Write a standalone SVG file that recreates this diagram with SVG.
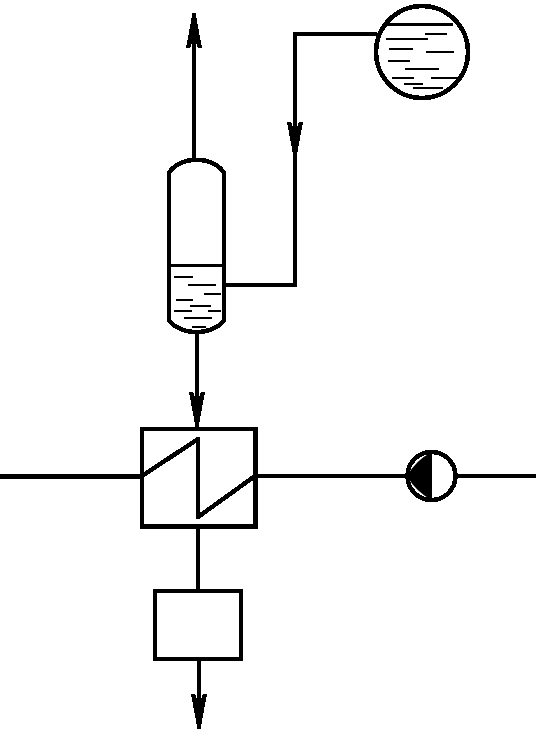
<svg xmlns="http://www.w3.org/2000/svg" width="541" height="733" viewBox="0 0 541 733">
<style>
.s{fill:none;stroke:#000;stroke-width:4.500;shape-rendering:crispEdges}
.f{fill:#fff;stroke:#000;stroke-width:4.500;shape-rendering:crispEdges}
.l{fill:none;stroke:#000;stroke-width:2;shape-rendering:crispEdges}
.t{fill:none;stroke:#000;stroke-width:3.500;shape-rendering:crispEdges}
</style>
<defs>
<marker id="arrow" markerUnits="userSpaceOnUse" markerWidth="35" markerHeight="16" viewBox="0 0 35 16" refX="23" refY="8" orient="auto" overflow="visible">
<path d="M0,0 L35,6.500 V9.500 L0,16 V12 L5,10 V6 L0,4 Z" fill="#000" shape-rendering="crispEdges"/>
</marker>
</defs>
<rect width="541" height="733" fill="#fff"/>
<g id="connectors">
<path class="s" d="M194,158 V25" marker-end="url(#arrow)"/>
<path class="s" d="M377,34 H295 V145" marker-end="url(#arrow)"/>
<path class="s" d="M295,145 V285 H225"/>
<path class="s" d="M197,334 V415" marker-end="url(#arrow)"/>
<path class="s" d="M0,476.500 H141"/>
<path class="s" d="M256,476 H406"/>
<path class="s" d="M457,476 H536"/>
<path class="s" d="M198,527 V591"/>
<path class="s" d="M199,660 V717" marker-end="url(#arrow)"/>
</g>
<g id="drum">
<circle class="f" cx="422" cy="52" r="46"/>
<path class="t" d="M385,24.500 H453"/>
<path class="l" d="M425,34H447M386,39H428M389,49H413M426,52H454M388,61H410M405,69H439M392,78H414M431,78H459M404,84H423M413,88H443"/>
</g>
<g id="separator">
<path class="f" d="M169,173 A30,22 0 0 1 224,173 V320 A30,20 0 0 1 169,320 Z"/>
<path class="t" d="M169,265.500 H224"/>
<path class="l" d="M174,277H193M188,285H216M204,294H221M176,300H193M190,306H211M174,311H192M208,311H221M184,318H212M192,327H206"/>
</g>
<g id="heat-exchanger">
<rect class="f" x="142" y="429" width="113.500" height="97.700"/>
<path class="s" stroke-linejoin="round" d="M142,476 L198,439 V517 L255,476"/>
</g>
<g id="pump">
<circle class="f" cx="431.500" cy="476" r="24"/>
<path d="M432,452 Q416,460 407,476 Q416,492 432,500 Z" fill="#000"/>
</g>
<g id="box">
<rect class="f" x="155" y="591" width="86" height="68"/>
</g>
</svg>
